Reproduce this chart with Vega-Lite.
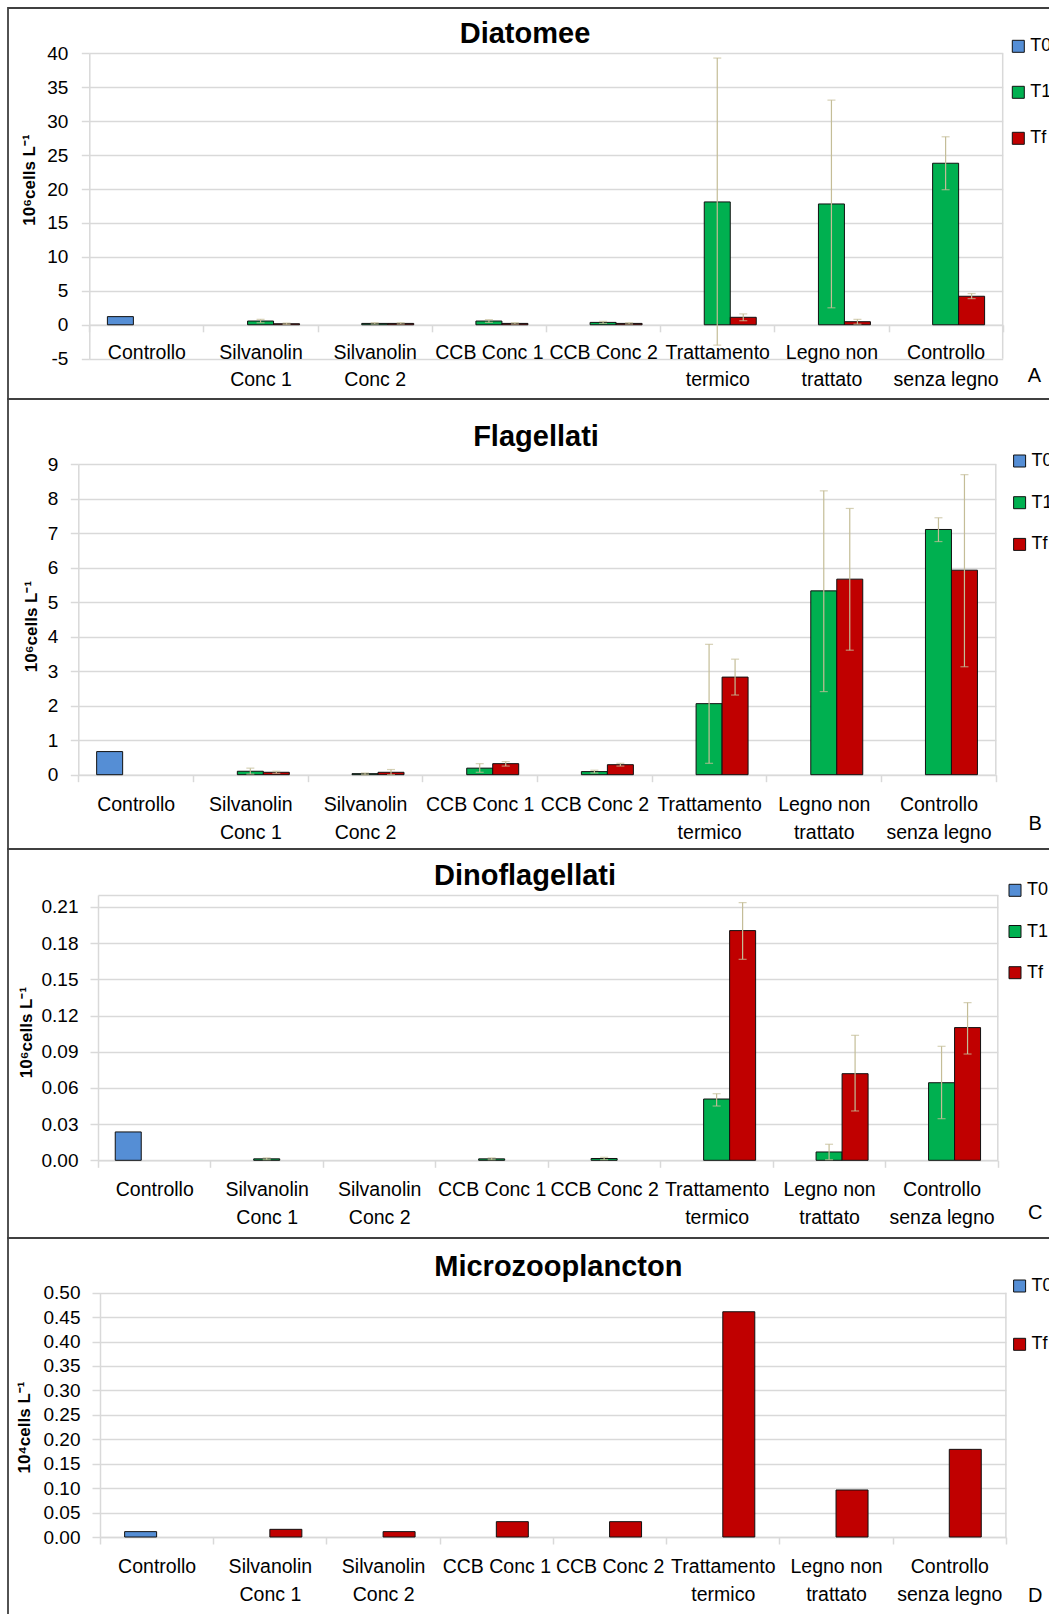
{
  "$schema": "https://vega.github.io/schema/vega-lite/v6.json",
  "padding": {"left": 7, "top": 7, "right": -3, "bottom": -3},
  "background": "white",
  "spacing": 0,
  "bounds": "flush",
  "datasets": {
    "A": [
      {"cat": "Controllo", "series": "T0", "value": 1.2},
      {"cat": "Silvanolin Conc 1", "series": "T1", "value": 0.55, "lo": 0.3, "hi": 0.8},
      {"cat": "Silvanolin Conc 1", "series": "Tf", "value": 0.15, "lo": 0.05, "hi": 0.25},
      {"cat": "Silvanolin Conc 2", "series": "T1", "value": 0.2, "lo": 0.1, "hi": 0.3},
      {"cat": "Silvanolin Conc 2", "series": "Tf", "value": 0.2, "lo": 0.1, "hi": 0.3},
      {"cat": "CCB Conc 1", "series": "T1", "value": 0.55, "lo": 0.35, "hi": 0.75},
      {"cat": "CCB Conc 1", "series": "Tf", "value": 0.2, "lo": 0.1, "hi": 0.3},
      {"cat": "CCB Conc 2", "series": "T1", "value": 0.35, "lo": 0.2, "hi": 0.5},
      {"cat": "CCB Conc 2", "series": "Tf", "value": 0.2, "lo": 0.1, "hi": 0.3},
      {"cat": "Trattamento termico", "series": "T1", "value": 18.1, "lo": -3.0, "hi": 39.3},
      {"cat": "Trattamento termico", "series": "Tf", "value": 1.1, "lo": 0.6, "hi": 1.6},
      {"cat": "Legno non trattato", "series": "T1", "value": 17.8, "lo": 2.5, "hi": 33.1},
      {"cat": "Legno non trattato", "series": "Tf", "value": 0.45, "lo": 0.1, "hi": 0.8},
      {"cat": "Controllo senza legno", "series": "T1", "value": 23.8, "lo": 19.9, "hi": 27.7},
      {"cat": "Controllo senza legno", "series": "Tf", "value": 4.2, "lo": 3.85, "hi": 4.6}
    ],
    "B": [
      {"cat": "Controllo", "series": "T0", "value": 0.67},
      {"cat": "Silvanolin Conc 1", "series": "T1", "value": 0.1, "lo": 0.02, "hi": 0.19},
      {"cat": "Silvanolin Conc 1", "series": "Tf", "value": 0.07, "lo": 0.04, "hi": 0.1},
      {"cat": "Silvanolin Conc 2", "series": "T1", "value": 0.03, "lo": 0.0, "hi": 0.05},
      {"cat": "Silvanolin Conc 2", "series": "Tf", "value": 0.07, "lo": 0.0, "hi": 0.15},
      {"cat": "CCB Conc 1", "series": "T1", "value": 0.19, "lo": 0.07, "hi": 0.32},
      {"cat": "CCB Conc 1", "series": "Tf", "value": 0.32, "lo": 0.25, "hi": 0.38},
      {"cat": "CCB Conc 2", "series": "T1", "value": 0.09, "lo": 0.05, "hi": 0.13},
      {"cat": "CCB Conc 2", "series": "Tf", "value": 0.29, "lo": 0.25, "hi": 0.33},
      {"cat": "Trattamento termico", "series": "T1", "value": 2.06, "lo": 0.33, "hi": 3.78},
      {"cat": "Trattamento termico", "series": "Tf", "value": 2.83, "lo": 2.31, "hi": 3.35},
      {"cat": "Legno non trattato", "series": "T1", "value": 5.33, "lo": 2.41, "hi": 8.23},
      {"cat": "Legno non trattato", "series": "Tf", "value": 5.67, "lo": 3.61, "hi": 7.72},
      {"cat": "Controllo senza legno", "series": "T1", "value": 7.11, "lo": 6.76, "hi": 7.45},
      {"cat": "Controllo senza legno", "series": "Tf", "value": 5.93, "lo": 3.13, "hi": 8.7}
    ],
    "C": [
      {"cat": "Controllo", "series": "T0", "value": 0.0235},
      {"cat": "Silvanolin Conc 1", "series": "T1", "value": 0.0012, "lo": 0.0005, "hi": 0.002},
      {"cat": "CCB Conc 1", "series": "T1", "value": 0.0012, "lo": 0.0005, "hi": 0.002},
      {"cat": "CCB Conc 2", "series": "T1", "value": 0.0015, "lo": 0.0005, "hi": 0.0025},
      {"cat": "Trattamento termico", "series": "T1", "value": 0.0508, "lo": 0.045, "hi": 0.0552},
      {"cat": "Trattamento termico", "series": "Tf", "value": 0.1904, "lo": 0.1666, "hi": 0.2136},
      {"cat": "Legno non trattato", "series": "T1", "value": 0.0069, "lo": 0.0005, "hi": 0.0133},
      {"cat": "Legno non trattato", "series": "Tf", "value": 0.0718, "lo": 0.0409, "hi": 0.1036},
      {"cat": "Controllo senza legno", "series": "T1", "value": 0.0643, "lo": 0.0345, "hi": 0.0945},
      {"cat": "Controllo senza legno", "series": "Tf", "value": 0.11, "lo": 0.0881, "hi": 0.1307}
    ],
    "D": [
      {"cat": "Controllo", "series": "T0", "value": 0.011},
      {"cat": "Silvanolin Conc 1", "series": "Tf", "value": 0.0157},
      {"cat": "Silvanolin Conc 2", "series": "Tf", "value": 0.011},
      {"cat": "CCB Conc 1", "series": "Tf", "value": 0.0314},
      {"cat": "CCB Conc 2", "series": "Tf", "value": 0.0314},
      {"cat": "Trattamento termico", "series": "Tf", "value": 0.461},
      {"cat": "Legno non trattato", "series": "Tf", "value": 0.0962},
      {"cat": "Controllo senza legno", "series": "Tf", "value": 0.1794}
    ]
  },
  "resolve": {"scale": {"color": "independent", "x": "independent", "y": "independent", "xOffset": "independent"}, "legend": {"color": "independent"}},
  "vconcat": [
    {
      "width": 1044, "height": 391,
      "title": {"text": "Diatomee", "offset": -40.8, "dx": -5},
      "layer": [
        {
          "data": {"name": "A"},
          "mark": {"type": "bar", "stroke": "#111", "strokeWidth": 1},
          "encoding": {
            "x": {"field": "cat", "type": "nominal",
              "scale": {"domain": ["Controllo", "Silvanolin Conc 1", "Silvanolin Conc 2", "CCB Conc 1", "CCB Conc 2", "Trattamento termico", "Legno non trattato", "Controllo senza legno"], "range": [81.3, 994.7], "paddingInner": 0, "paddingOuter": 0},
              "axis": {"offset": -74.2, "labelPadding": 11.5, "title": "A", "titleX": 1026, "titleY": 50.2}},
            "xOffset": {"field": "series", "type": "nominal", "scale": {"paddingInner": 0, "paddingOuter": 0.696}},
            "y": {"field": "value", "type": "quantitative",
              "scale": {"domain": [-5, 40], "range": [350.7, 45.3], "nice": false, "zero": false},
              "axis": {"values": [-5, 0, 5, 10, 15, 20, 25, 30, 35, 40], "tickCount": 30, "format": "d", "labelExpr": "replace(datum.label, '−', '-')", "offset": -81.3, "labelPadding": 13.5, "title": "10⁶cells L⁻¹", "titleX": -60.3, "titleY": 171.5}},
            "color": {"field": "series", "type": "nominal",
              "scale": {"domain": ["T0", "T1", "Tf"], "range": ["#558ED5", "#00B050", "#C00000"]},
              "legend": {"legendX": 1001.3, "legendY": 29.3, "rowPadding": 28}}
          }
        },
        {
          "data": {"name": "A"},
          "transform": [{"filter": "isValid(datum.lo)"}],
          "mark": {"type": "rule", "color": "#C4BD97", "strokeWidth": 1.2},
          "encoding": {
            "x": {"field": "cat", "type": "nominal"},
            "xOffset": {"field": "series", "type": "nominal"},
            "y": {"field": "lo", "type": "quantitative"},
            "y2": {"field": "hi"}
          }
        },
        {
          "data": {"name": "A"},
          "transform": [{"filter": "isValid(datum.lo)"}],
          "mark": {"type": "tick", "color": "#C4BD97", "size": 8, "thickness": 1.2},
          "encoding": {
            "x": {"field": "cat", "type": "nominal"},
            "xOffset": {"field": "series", "type": "nominal"},
            "y": {"field": "lo", "type": "quantitative"}
          }
        },
        {
          "data": {"name": "A"},
          "transform": [{"filter": "isValid(datum.hi)"}],
          "mark": {"type": "tick", "color": "#C4BD97", "size": 8, "thickness": 1.2},
          "encoding": {
            "x": {"field": "cat", "type": "nominal"},
            "xOffset": {"field": "series", "type": "nominal"},
            "y": {"field": "hi", "type": "quantitative"}
          }
        },
        {
          "data": {"values": [{}]},
          "mark": {"type": "rule", "color": "#d9d9d9", "strokeWidth": 1.5},
          "encoding": {
            "x": {"datum": "Controllo senza legno", "type": "nominal", "bandPosition": 1},
            "y": {"datum": -5, "type": "quantitative"},
            "y2": {"datum": 40}
          }
        }
      ]
    },
    {
      "width": 1044, "height": 450,
      "title": {"text": "Flagellati", "offset": -52.5, "dx": 6},
      "layer": [
        {
          "data": {"name": "B"},
          "mark": {"type": "bar", "stroke": "#111", "strokeWidth": 1},
          "encoding": {
            "x": {"field": "cat", "type": "nominal",
              "scale": {"domain": ["Controllo", "Silvanolin Conc 1", "Silvanolin Conc 2", "CCB Conc 1", "CCB Conc 2", "Trattamento termico", "Legno non trattato", "Controllo senza legno"], "range": [70.3, 987.8], "paddingInner": 0, "paddingOuter": 0},
              "axis": {"offset": -74.3, "labelPadding": 14.2, "title": "B", "titleX": 1026.6, "titleY": 49}},
            "xOffset": {"field": "series", "type": "nominal", "scale": {"paddingInner": 0, "paddingOuter": 0.706}},
            "y": {"field": "value", "type": "quantitative",
              "scale": {"domain": [0, 9], "range": [375.7, 65.3], "nice": false, "zero": false},
              "axis": {"values": [0, 1, 2, 3, 4, 5, 6, 7, 8, 9], "tickCount": 30, "format": "d", "offset": -70.3, "labelPadding": 12.5, "title": "10⁶cells L⁻¹", "titleX": -47.3, "titleY": 227}},
            "color": {"field": "series", "type": "nominal",
              "scale": {"domain": ["T0", "T1", "Tf"], "range": ["#558ED5", "#00B050", "#C00000"]},
              "legend": {"legendX": 1002.6, "legendY": 53, "rowPadding": 23.7}}
          }
        },
        {
          "data": {"name": "B"},
          "transform": [{"filter": "isValid(datum.lo)"}],
          "mark": {"type": "rule", "color": "#C4BD97", "strokeWidth": 1.2},
          "encoding": {
            "x": {"field": "cat", "type": "nominal"},
            "xOffset": {"field": "series", "type": "nominal"},
            "y": {"field": "lo", "type": "quantitative"},
            "y2": {"field": "hi"}
          }
        },
        {
          "data": {"name": "B"},
          "transform": [{"filter": "isValid(datum.lo)"}],
          "mark": {"type": "tick", "color": "#C4BD97", "size": 8, "thickness": 1.2},
          "encoding": {
            "x": {"field": "cat", "type": "nominal"},
            "xOffset": {"field": "series", "type": "nominal"},
            "y": {"field": "lo", "type": "quantitative"}
          }
        },
        {
          "data": {"name": "B"},
          "transform": [{"filter": "isValid(datum.hi)"}],
          "mark": {"type": "tick", "color": "#C4BD97", "size": 8, "thickness": 1.2},
          "encoding": {
            "x": {"field": "cat", "type": "nominal"},
            "xOffset": {"field": "series", "type": "nominal"},
            "y": {"field": "hi", "type": "quantitative"}
          }
        },
        {
          "data": {"values": [{}]},
          "mark": {"type": "rule", "color": "#d9d9d9", "strokeWidth": 1.5},
          "encoding": {
            "x": {"datum": "Controllo senza legno", "type": "nominal", "bandPosition": 1},
            "y": {"datum": 0, "type": "quantitative"},
            "y2": {"datum": 9}
          }
        }
      ]
    },
    {
      "width": 1044, "height": 389,
      "title": {"text": "Dinoflagellati", "offset": -41.5, "dx": -5},
      "layer": [
        {
          "data": {"name": "C"},
          "mark": {"type": "bar", "stroke": "#111", "strokeWidth": 1},
          "encoding": {
            "x": {"field": "cat", "type": "nominal",
              "scale": {"domain": ["Controllo", "Silvanolin Conc 1", "Silvanolin Conc 2", "CCB Conc 1", "CCB Conc 2", "Trattamento termico", "Legno non trattato", "Controllo senza legno"], "range": [90, 989.8], "paddingInner": 0, "paddingOuter": 0},
              "axis": {"offset": -77.7, "labelPadding": 13.6, "title": "C", "titleX": 1026.6, "titleY": 52.4}},
            "xOffset": {"field": "series", "type": "nominal", "scale": {"paddingInner": 0, "paddingOuter": 0.663}},
            "y": {"field": "value", "type": "quantitative",
              "scale": {"domain": [0, 0.22], "range": [311.3, 45.9], "nice": false, "zero": false},
              "axis": {"values": [0, 0.03, 0.06, 0.09, 0.12, 0.15, 0.18, 0.21, 0.22], "tickCount": 30, "format": ".2f", "labelExpr": "datum.value > 0.215 ? '' : datum.label", "tickOpacity": {"condition": {"test": "datum.value > 0.215", "value": 0}, "value": 1}, "offset": -90, "labelPadding": 12, "title": "10⁶cells L⁻¹", "titleX": -71.6, "titleY": 183}},
            "color": {"field": "series", "type": "nominal",
              "scale": {"domain": ["T0", "T1", "Tf"], "range": ["#558ED5", "#00B050", "#C00000"]},
              "legend": {"legendX": 998, "legendY": 32.3, "rowPadding": 23.2}}
          }
        },
        {
          "data": {"name": "C"},
          "transform": [{"filter": "isValid(datum.lo)"}],
          "mark": {"type": "rule", "color": "#C4BD97", "strokeWidth": 1.2},
          "encoding": {
            "x": {"field": "cat", "type": "nominal"},
            "xOffset": {"field": "series", "type": "nominal"},
            "y": {"field": "lo", "type": "quantitative"},
            "y2": {"field": "hi"}
          }
        },
        {
          "data": {"name": "C"},
          "transform": [{"filter": "isValid(datum.lo)"}],
          "mark": {"type": "tick", "color": "#C4BD97", "size": 8, "thickness": 1.2},
          "encoding": {
            "x": {"field": "cat", "type": "nominal"},
            "xOffset": {"field": "series", "type": "nominal"},
            "y": {"field": "lo", "type": "quantitative"}
          }
        },
        {
          "data": {"name": "C"},
          "transform": [{"filter": "isValid(datum.hi)"}],
          "mark": {"type": "tick", "color": "#C4BD97", "size": 8, "thickness": 1.2},
          "encoding": {
            "x": {"field": "cat", "type": "nominal"},
            "xOffset": {"field": "series", "type": "nominal"},
            "y": {"field": "hi", "type": "quantitative"}
          }
        },
        {
          "data": {"values": [{}]},
          "mark": {"type": "rule", "color": "#d9d9d9", "strokeWidth": 1.5},
          "encoding": {
            "x": {"datum": "Controllo senza legno", "type": "nominal", "bandPosition": 1},
            "y": {"datum": 0, "type": "quantitative"},
            "y2": {"datum": 0.22}
          }
        }
      ]
    },
    {
      "width": 1044, "height": 379,
      "title": {"text": "Microzooplancton", "offset": -43.5, "dx": 28.3},
      "layer": [
        {
          "data": {"name": "D"},
          "mark": {"type": "bar", "stroke": "#111", "strokeWidth": 1},
          "encoding": {
            "x": {"field": "cat", "type": "nominal",
              "scale": {"domain": ["Controllo", "Silvanolin Conc 1", "Silvanolin Conc 2", "CCB Conc 1", "CCB Conc 2", "Trattamento termico", "Legno non trattato", "Controllo senza legno"], "range": [92, 997.9], "paddingInner": 0, "paddingOuter": 0},
              "axis": {"offset": -80, "labelPadding": 13.6, "title": "D", "titleX": 1026.6, "titleY": 58}},
            "xOffset": {"field": "series", "type": "nominal", "scale": {"paddingInner": 0, "paddingOuter": 0.77}},
            "y": {"field": "value", "type": "quantitative",
              "scale": {"domain": [0, 0.5], "range": [299, 54.7], "nice": false, "zero": false},
              "axis": {"values": [0, 0.05, 0.1, 0.15, 0.2, 0.25, 0.3, 0.35, 0.4, 0.45, 0.5], "tickCount": 30, "format": ".2f", "offset": -92, "labelPadding": 12, "title": "10⁴cells L⁻¹", "titleX": -75.6, "titleY": 189}},
            "color": {"field": "series", "type": "nominal",
              "scale": {"domain": ["T0", "Tf"], "range": ["#558ED5", "#C00000"]},
              "legend": {"legendX": 1002.6, "legendY": 39, "rowPadding": 40.3}}
          }
        },
        {
          "data": {"values": [{}]},
          "mark": {"type": "rule", "color": "#d9d9d9", "strokeWidth": 1.5},
          "encoding": {
            "x": {"datum": "Controllo senza legno", "type": "nominal", "bandPosition": 1},
            "y": {"datum": 0, "type": "quantitative"},
            "y2": {"datum": 0.5}
          }
        }
      ]
    }
  ],
  "config": {
    "font": "Liberation Sans",
    "view": {"stroke": "#404040", "strokeWidth": 1.8},
    "title": {"anchor": "middle", "baseline": "middle", "font": "Liberation Sans", "fontSize": 29, "fontWeight": "bold", "color": "#000"},
    "axis": {"labelFont": "Liberation Sans", "titleFont": "Liberation Sans", "labelColor": "#000", "titleColor": "#000",
      "domainColor": "#d9d9d9", "domainWidth": 1.5, "tickColor": "#d9d9d9", "tickWidth": 1.5, "gridColor": "#d9d9d9", "gridWidth": 1.5},
    "axisY": {"grid": true, "tickSize": 8, "labelFontSize": 19, "labelOverlap": false, "titleFontSize": 17, "titleFontWeight": "bold", "titleAngle": -90, "titleAlign": "center", "titleBaseline": "middle"},
    "axisX": {"grid": false, "tickBand": "extent", "tickSize": 7, "labelAngle": 0, "labelFontSize": 19.5, "labelBaseline": "top", "labelLineHeight": 27.6, "labelOverlap": false, "labelLimit": 200,
      "labelExpr": "datum.value == 'Silvanolin Conc 1' ? ['Silvanolin', 'Conc 1'] : datum.value == 'Silvanolin Conc 2' ? ['Silvanolin', 'Conc 2'] : datum.value == 'Trattamento termico' ? ['Trattamento', 'termico'] : datum.value == 'Legno non trattato' ? ['Legno non', 'trattato'] : datum.value == 'Controllo senza legno' ? ['Controllo', 'senza legno'] : datum.label",
      "titleFontSize": 20, "titleFontWeight": "normal", "titleAlign": "center", "titleBaseline": "middle"},
    "legend": {"orient": "none", "title": null, "padding": 0, "symbolType": "square", "symbolSize": 144, "symbolStrokeColor": "#111", "symbolStrokeWidth": 1, "symbolOpacity": 1, "labelFont": "Liberation Sans", "labelFontSize": 18, "labelColor": "#000", "labelOffset": 3},
    "tick": {"orient": "horizontal"}
  }
}
